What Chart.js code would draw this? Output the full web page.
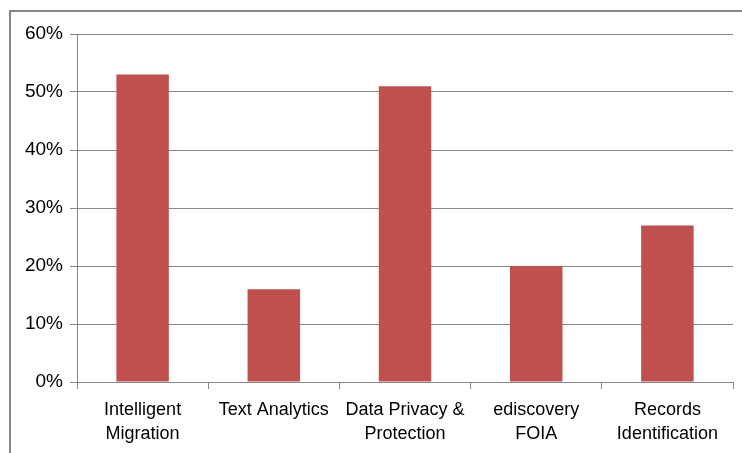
<!DOCTYPE html>
<html>
<head>
<meta charset="utf-8">
<script src="https://cdn.jsdelivr.net/npm/chart.js@4/dist/chart.umd.min.js"></script>
<style>
  html, body { margin: 0; padding: 0; background: #fff; overflow: hidden; }
  #wrap { position: relative; width: 742px; height: 453px; }
  #frame { position: absolute; left: 9px; top: 10px; width: 800px; height: 500px; border: 2px solid #878787; box-sizing: border-box; }
  canvas { position: absolute; left: 0; top: 0; }
</style>
</head>
<body>
<div id="wrap">
  <div id="frame"></div>
  <canvas id="chart" width="742" height="453"></canvas>
</div>
<script>
// Chart data
const categories = [
    ['Intelligent', 'Migration'],
    'Text Analytics',
    ['Data Privacy &', 'Protection'],
    ['ediscovery', 'FOIA'],
    ['Records', 'Identification']
];
const shares = [53, 16, 51, 20, 27];
const yTicks = [0, 10, 20, 30, 40, 50, 60];

const family = '"Liberation Sans", Arial, sans-serif';

new Chart(document.getElementById('chart').getContext('2d'), {
    type: 'bar',
    data: {
        labels: categories,
        datasets: [{
            data: shares,
            backgroundColor: '#C0504D',
            borderWidth: 0,
            categoryPercentage: 1,
            barPercentage: 0.4
        }]
    },
    options: {
        responsive: false,
        animation: false,
        layout: { padding: { top: 34, right: 9, left: 0, bottom: 0 } },
        scales: {
            x: {
                offset: true,
                grid: {
                    offset: true,
                    drawOnChartArea: false,
                    drawTicks: true,
                    tickLength: 7,
                    color: '#878787'
                },
                border: { color: '#878787' },
                ticks: {
                    color: '#000',
                    font: { family: family, size: 18, lineHeight: 1.35 },
                    padding: 9,
                    maxRotation: 0,
                    autoSkip: false
                },
                afterFit: function(scale) { scale.height = 71; }
            },
            y: {
                min: 0,
                max: 60,
                afterBuildTicks: function(scale) {
                    scale.ticks = yTicks.map(v => ({ value: v }));
                },
                grid: {
                    color: '#878787',
                    tickLength: 7
                },
                border: { color: '#878787' },
                ticks: {
                    color: '#000',
                    font: { family: family, size: 19 },
                    padding: 7,
                    callback: v => v + '%'
                },
                afterFit: function(scale) { scale.width = 77; }
            }
        },
        plugins: {
            legend: { display: false },
            tooltip: { enabled: false }
        }
    }
});
</script>
</body>
</html>
